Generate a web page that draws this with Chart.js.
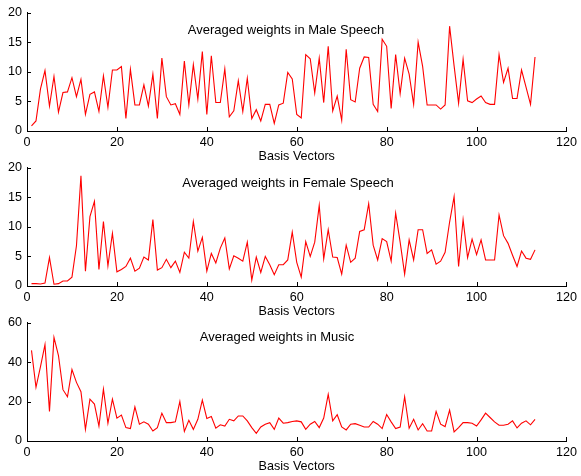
<!DOCTYPE html>
<html>
<head>
<meta charset="utf-8">
<script src="https://cdn.jsdelivr.net/npm/chart.js@4"></script>
<style>
  body { margin: 0; background: #fff; }
  #wrap { position: relative; width: 581px; height: 476px; }
  canvas { position: absolute; left: 0; }
</style>
</head>
<body>
<div id="wrap">
  <canvas id="chartMale" width="581" height="166" style="top:0"></canvas>
  <canvas id="chartFemale" width="581" height="166" style="top:155px"></canvas>
  <canvas id="chartMusic" width="581" height="166" style="top:310px"></canvas>
</div>
<script>
// ── Data ────────────────────────────────────────────────────
const basisVectors = Array.from({ length: 113 }, (_, i) => i + 1);

const maleWeights = [
  0.85, 1.7, 7.1, 10.2, 4.2, 9.2, 3.2, 6.5, 6.6, 9.0,
  5.8, 8.7, 2.8, 6.2, 6.6, 3.3, 9.3, 4.0, 10.3, 10.3,
  10.9, 2.1, 10.4, 4.4, 4.4, 7.8, 4.2, 9.6, 2.1, 12.3,
  5.8, 4.4, 4.6, 2.8, 11.8, 4.4, 11.2, 5.4, 13.4, 2.8,
  12.7, 4.8, 4.8, 10.5, 2.4, 3.4, 8.5, 3.3, 8.9, 2.1,
  3.6, 1.7, 4.5, 4.5, 1.3, 4.4, 4.7, 9.9, 8.8, 2.8,
  2.2, 12.9, 12.2, 6.4, 12.3, 4.8, 14.3, 3.4, 5.9, 1.8,
  13.8, 5.3, 4.9, 10.6, 12.5, 12.4, 4.5, 3.3, 15.5, 14.3,
  3.8, 12.9, 6.3, 12.3, 9.6, 4.5, 15.0, 10.9, 4.4, 4.4,
  4.4, 3.7, 4.4, 17.7, 11.0, 4.7, 12.1, 5.1, 4.8, 5.4,
  5.9, 4.8, 4.5, 4.5, 12.9, 8.2, 10.6, 5.5, 5.5, 10.3,
  7.4, 4.5, 12.5,
];

const femaleWeights = [
  0.4, 0.4, 0.35, 0.5, 4.8, 0.3, 0.4, 0.85, 0.85, 1.5,
  6.8, 18.6, 2.5, 11.7, 14.3, 2.8, 10.9, 3.4, 8.9, 2.4,
  2.8, 3.3, 4.7, 2.5, 3.0, 4.9, 4.4, 11.2, 2.7, 3.1,
  4.5, 3.1, 4.2, 2.3, 5.7, 4.7, 10.9, 5.9, 8.2, 2.5,
  5.5, 3.9, 6.4, 8.1, 2.9, 5.1, 4.7, 4.2, 7.4, 1.0,
  4.9, 2.3, 5.0, 3.6, 1.9, 3.6, 3.6, 4.4, 9.1, 4.0,
  1.5, 7.5, 5.0, 7.4, 13.6, 4.6, 9.5, 4.9, 4.8, 2.0,
  6.9, 4.0, 4.7, 9.2, 9.5, 13.9, 6.9, 4.4, 8.0, 7.5,
  4.2, 12.3, 7.4, 2.0, 7.8, 4.4, 9.5, 9.5, 5.5, 6.1,
  3.7, 4.2, 5.7, 10.8, 15.1, 3.3, 11.2, 4.8, 7.9, 5.3,
  7.8, 4.4, 4.4, 4.4, 12.0, 8.5, 7.2, 5.2, 3.3, 5.9,
  4.7, 4.5, 6.1,
];

const musicWeights = [
  45.9, 27.2, 37.7, 48.8, 15.0, 52.5, 43.3, 26.0, 22.4, 36.2,
  29.7, 25.0, 5.9, 21.2, 18.7, 7.6, 26.3, 9.0, 21.2, 11.6,
  13.1, 6.8, 6.3, 17.3, 8.5, 9.7, 8.5, 5.1, 6.8, 14.1,
  9.3, 9.3, 9.7, 20.0, 4.8, 10.5, 5.9, 11.0, 20.7, 11.4,
  12.4, 6.5, 8.2, 7.6, 11.0, 10.2, 12.7, 12.7, 10.2, 6.8,
  3.9, 7.1, 8.5, 9.3, 5.9, 11.6, 9.0, 9.3, 9.9, 10.2,
  9.7, 5.9, 8.5, 9.9, 6.8, 11.6, 23.6, 10.2, 13.3, 7.1,
  5.6, 8.5, 8.8, 8.0, 7.1, 7.1, 9.9, 8.5, 6.3, 13.4,
  9.7, 6.3, 7.1, 22.4, 6.5, 11.0, 5.6, 8.8, 5.1, 5.1,
  15.0, 8.5, 7.3, 15.6, 4.6, 6.8, 9.3, 9.3, 9.0, 7.6,
  10.7, 14.1, 11.9, 9.7, 8.0, 8.0, 8.5, 10.2, 6.6, 9.0,
  10.2, 8.2, 11.0,
];

const xTickMax = 120;
const xTickStep = 20;
const speechTickMax = 20;
const speechTickStep = 5;
const musicTickMax = 60;
const musicTickStep = 20;

// ── Shared look ─────────────────────────────────────────────
const FONT = "'Liberation Sans', Arial, Helvetica, sans-serif";
const TICK_SIZE = 12.6;

// matlab style: ticks pointing into the axes, title inside the box
const insideDecor = {
  id: "insideDecor",
  afterDraw(chart, args, opts) {
    const { ctx, chartArea: a, scales } = chart;
    ctx.save();
    ctx.strokeStyle = "#000";
    ctx.lineWidth = 1;
    ctx.beginPath();
    scales.x.ticks.forEach((t) => {
      const px = Math.round(scales.x.getPixelForValue(t.value)) + 0.5;
      ctx.moveTo(px, a.bottom);
      ctx.lineTo(px, a.bottom - 4);
    });
    scales.y.ticks.forEach((t) => {
      const py = Math.round(scales.y.getPixelForValue(t.value)) + 0.5;
      ctx.moveTo(a.left, py);
      ctx.lineTo(a.left + 4, py);
    });
    ctx.stroke();

    if (opts.text) {
      ctx.fillStyle = "#000";
      ctx.font = `13px ${FONT}`;
      ctx.textAlign = "center";
      ctx.textBaseline = "middle";
      ctx.fillText(opts.text, opts.x, a.top + opts.dy);
    }
    ctx.restore();
  },
};

function makePanel(canvasId, values, yMax, yStep, title, titleX, titleDy) {
  const el = document.getElementById(canvasId);
  return new Chart(el, {
    type: "line",
    data: {
      datasets: [
        {
          data: basisVectors.map((x, i) => ({ x, y: values[i] })),
          borderColor: "#ff0000",
          borderWidth: 1.1,
          pointRadius: 0,
          tension: 0,
          fill: false,
        },
      ],
    },
    options: {
      responsive: false,
      animation: false,
      layout: { padding: { left: 0, right: 11, top: 12, bottom: 0 } },
      plugins: {
        legend: { display: false },
        tooltip: { enabled: false },
        insideDecor: { text: title, x: titleX, dy: titleDy },
      },
      scales: {
        x: {
          type: "linear",
          min: 0,
          max: xTickMax,
          afterFit: (scale) => { scale.height = 35; },
          ticks: {
            stepSize: xTickStep,
            color: "#000",
            padding: 4,
            maxRotation: 0,
            font: { family: FONT, size: TICK_SIZE },
          },
          grid: { drawOnChartArea: false, drawTicks: false },
          border: { color: "#000", width: 1 },
          title: {
            display: true,
            text: "Basis Vectors",
            color: "#000",
            font: { family: FONT, size: TICK_SIZE },
            padding: { top: 0, bottom: 2 },
          },
        },
        y: {
          min: 0,
          max: yMax,
          afterFit: (scale) => { scale.width = 27; },
          ticks: {
            stepSize: yStep,
            color: "#000",
            padding: 5,
            font: { family: FONT, size: TICK_SIZE },
          },
          grid: { drawOnChartArea: false, drawTicks: false },
          border: { color: "#000", width: 1 },
        },
      },
    },
    plugins: [insideDecor],
  });
}

makePanel("chartMale", maleWeights, speechTickMax, speechTickStep,
  "Averaged weights in Male Speech", 286, 18);
makePanel("chartFemale", femaleWeights, speechTickMax, speechTickStep,
  "Averaged weights in Female Speech", 288, 16);
makePanel("chartMusic", musicWeights, musicTickMax, musicTickStep,
  "Averaged weights in Music", 277, 15);
</script>
</body>
</html>
